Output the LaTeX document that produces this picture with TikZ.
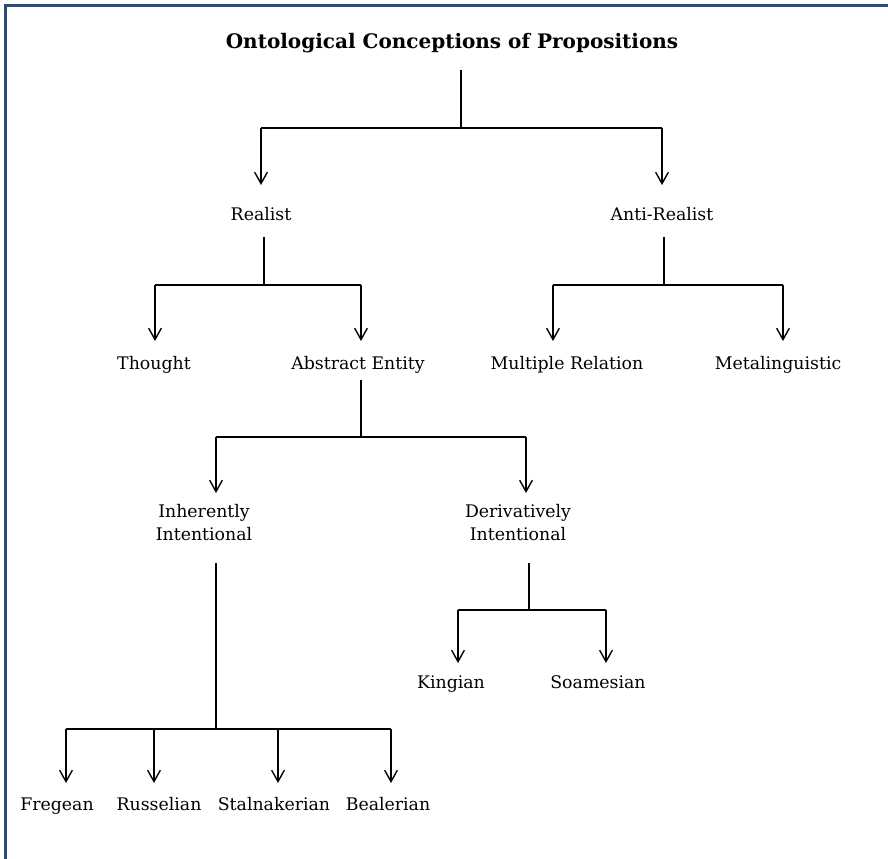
\documentclass[tikz,border=0pt]{standalone}
\usepackage{fontspec}
\setmainfont{DejaVu Serif}
\usetikzlibrary{arrows.meta}
\definecolor{framec}{HTML}{2E4A6E}
\begin{document}
\begin{tikzpicture}[x=0.75pt,y=-0.75pt,
  lbl/.style={inner sep=0pt, anchor=base, font=\fontsize{13}{16}\selectfont},
  lbltwo/.style={inner sep=0pt, anchor=center, align=center, font=\fontsize{13}{17.25}\selectfont},
  ttl/.style={inner sep=0pt, anchor=base, font=\fontsize{15}{18}\selectfont\bfseries},
  link/.style={line width=1.05pt, draw=black},
  arr/.style={link, -{Straight Barb[length=8.5pt,width=9.5pt,line width=1.05pt]}}]
\useasboundingbox (0,0) rectangle (888,859);
\clip (0,0) rectangle (888,859);
\draw[framec, line width=2.25pt] (5.5,900) -- (5.5,5.5) -- (900,5.5);

% labels
\node[ttl] (title) at (452,49) {Ontological Conceptions of Propositions};
\node[lbl] (realist) at (261,221) {Realist};
\node[lbl] (anti) at (662,221) {Anti-Realist};
\node[lbl] (thought) at (154,369) {Thought};
\node[lbl] (abstract) at (358,369) {Abstract Entity};
\node[lbl] (multiple) at (567,369) {Multiple Relation};
\node[lbl] (meta) at (778,369) {Metalinguistic};
\node[lbltwo] (inh) at (204,523) {Inherently\\Intentional};
\node[lbltwo] (der) at (518,523) {Derivatively\\Intentional};
\node[lbl] (kingian) at (451,688) {Kingian};
\node[lbl] (soames) at (598,688) {Soamesian};
\node[lbl] (frege) at (57,810) {Fregean};
\node[lbl] (russell) at (159,810) {Russelian};
\node[lbl] (stal) at (274,810) {Stalnakerian};
\node[lbl] (beal) at (388,810) {Bealerian};

% junction coordinates
\coordinate (s0) at (461,70);   \coordinate (j0) at (461,128);
\coordinate (b0l) at (261,128); \coordinate (b0r) at (662,128);
\coordinate (tRealist) at (261,185); \coordinate (tAnti) at (662,185);

\coordinate (s1) at (264,237);  \coordinate (j1) at (264,285);
\coordinate (b1l) at (155,285); \coordinate (b1r) at (361,285);
\coordinate (tThought) at (155,341); \coordinate (tAbstract) at (361,341);

\coordinate (s2) at (664,237);  \coordinate (j2) at (664,285);
\coordinate (b2l) at (553,285); \coordinate (b2r) at (783,285);
\coordinate (tMultiple) at (553,341); \coordinate (tMeta) at (783,341);

\coordinate (s3) at (361,380);  \coordinate (j3) at (361,437);
\coordinate (b3l) at (216,437); \coordinate (b3r) at (526,437);
\coordinate (tInh) at (216,493); \coordinate (tDer) at (526,493);

\coordinate (s4) at (216,563);  \coordinate (j4) at (216,729);
\coordinate (b4a) at (66,729);  \coordinate (b4b) at (154,729);
\coordinate (b4c) at (278,729); \coordinate (b4d) at (391,729);
\coordinate (tFrege) at (66,783); \coordinate (tRussell) at (154,783);
\coordinate (tStal) at (278,783); \coordinate (tBeal) at (391,783);

\coordinate (s5) at (529,563);  \coordinate (j5) at (529,610);
\coordinate (b5l) at (458,610); \coordinate (b5r) at (606,610);
\coordinate (tKing) at (458,663); \coordinate (tSoames) at (606,663);

% connectors
\draw[link] (s0) -- (j0);
\draw[link] (b0l) -- (b0r);
\draw[arr] (b0l) -- (tRealist);
\draw[arr] (b0r) -- (tAnti);

\draw[link] (s1) -- (j1);
\draw[link] (b1l) -- (b1r);
\draw[arr] (b1l) -- (tThought);
\draw[arr] (b1r) -- (tAbstract);

\draw[link] (s2) -- (j2);
\draw[link] (b2l) -- (b2r);
\draw[arr] (b2l) -- (tMultiple);
\draw[arr] (b2r) -- (tMeta);

\draw[link] (s3) -- (j3);
\draw[link] (b3l) -- (b3r);
\draw[arr] (b3l) -- (tInh);
\draw[arr] (b3r) -- (tDer);

\draw[link] (s4) -- (j4);
\draw[link] (b4a) -- (b4d);
\draw[arr] (b4a) -- (tFrege);
\draw[arr] (b4b) -- (tRussell);
\draw[arr] (b4c) -- (tStal);
\draw[arr] (b4d) -- (tBeal);

\draw[link] (s5) -- (j5);
\draw[link] (b5l) -- (b5r);
\draw[arr] (b5l) -- (tKing);
\draw[arr] (b5r) -- (tSoames);
\end{tikzpicture}
\end{document}
